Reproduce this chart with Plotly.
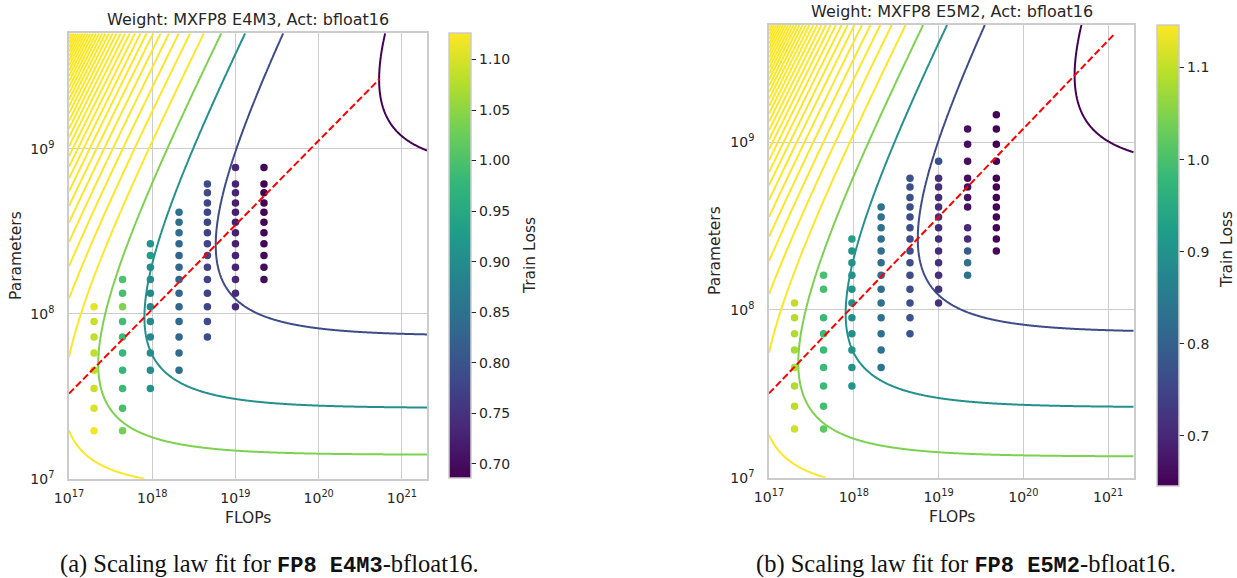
import numpy as np
import plotly.graph_objects as go
from plotly.colors import sample_colorscale

FONT = "DejaVu Sans"
INK = "#262626"
GRID = "#cccccc"
W, H = 1237, 578

# ---------------------------------------------------------------------------
# Runs: one list of model sizes (millions of parameters) per compute budget
# ---------------------------------------------------------------------------
E4M3_FLOPS = [2.0e17, 4.4e17, 9.5e17, 2.1e18, 4.6e18, 1.0e19, 2.2e19]
E4M3_PARAMS_M = [
    [110, 89.8, 72.2, 57.8, 45.4, 35.2, 26.7, 19.5],
    [161, 133, 110, 89.8, 72.2, 57.8, 45.4, 35.2, 26.7, 19.5],
    [265, 225, 191, 161, 133, 110, 89.8, 72.2, 57.8, 45.4, 35.2],
    [411, 358, 309, 265, 225, 191, 161, 133, 110, 89.8, 72.2, 57.8, 45.4],
    [611, 540, 469, 411, 358, 309, 265, 225, 191, 161, 133, 110, 89.8, 72.2],
    [770, 611, 540, 469, 411, 358, 309, 265, 225, 191, 161, 133, 110],
    [770, 611, 540, 469, 411, 358, 309, 265, 225, 191, 161],
]
E4M3_LOSS = [
    [1.110, 1.090, 1.085, 1.085, 1.080, 1.090, 1.100, 1.120],
    [1.000, 0.995, 1.040, 0.990, 0.985, 0.980, 0.980, 0.985, 0.995, 1.030],
    [0.915, 0.930, 0.905, 0.900, 0.895, 0.895, 0.895, 0.895, 0.900, 0.905, 0.910],
    [0.850, 0.845, 0.840, 0.835, 0.830, 0.830, 0.830, 0.830, 0.830, 0.835, 0.835, 0.840, 0.845],
    [0.790, 0.785, 0.780, 0.780, 0.775, 0.775, 0.775, 0.775, 0.775, 0.775, 0.775, 0.780, 0.785, 0.790],
    [0.735, 0.730, 0.730, 0.725, 0.725, 0.725, 0.725, 0.725, 0.730, 0.730, 0.735, 0.735, 0.740],
    [0.690, 0.688, 0.687, 0.687, 0.688, 0.690, 0.690, 0.692, 0.695, 0.698, 0.700],
]

E5M2_FLOPS = [2.0e17, 4.4e17, 9.5e17, 2.1e18, 4.6e18, 1.0e19, 2.2e19, 4.8e19]
E5M2_PARAMS_M = [
    [110, 89.8, 72.2, 57.8, 45.4, 35.2, 26.7, 19.5],
    [161, 133, 89.8, 72.2, 57.8, 45.4, 35.2, 26.7, 19.5],
    [265, 225, 191, 161, 133, 110, 89.8, 72.2, 57.8, 45.4, 35.2],
    [411, 358, 309, 265, 225, 191, 161, 133, 110, 89.8, 72.2, 57.8, 45.4],
    [611, 540, 469, 411, 358, 309, 265, 225, 191, 161, 133, 110, 89.8, 72.2],
    [770, 611, 540, 469, 411, 358, 309, 265, 225, 191, 161, 133, 110],
    [1200, 973, 770, 611, 540, 469, 411, 309, 265, 225, 191, 161],
    [1460, 1200, 973, 770, 611, 540, 469, 411, 358, 309, 265, 225],
]
E5M2_LOSS = [
    [1.100, 1.090, 1.085, 1.080, 1.085, 1.085, 1.095, 1.110],
    [1.000, 0.995, 0.985, 0.985, 0.985, 0.985, 0.985, 0.995, 1.020],
    [0.930, 0.905, 0.900, 0.900, 0.900, 0.895, 0.895, 0.895, 0.900, 0.900, 0.905],
    [0.835, 0.835, 0.830, 0.830, 0.830, 0.825, 0.825, 0.825, 0.830, 0.830, 0.830, 0.835, 0.840],
    [0.775, 0.770, 0.770, 0.765, 0.765, 0.765, 0.765, 0.765, 0.765, 0.765, 0.770, 0.770, 0.775, 0.780],
    [0.770, 0.715, 0.715, 0.710, 0.710, 0.710, 0.710, 0.710, 0.710, 0.715, 0.715, 0.720, 0.720],
    [0.665, 0.665, 0.665, 0.665, 0.665, 0.670, 0.670, 0.705, 0.710, 0.790, 0.830, 0.830],
    [0.650, 0.648, 0.646, 0.646, 0.646, 0.646, 0.646, 0.648, 0.650, 0.650, 0.652, 0.655],
]

# Fitted law  L(N, D) = E + A / N**alpha + B / D**beta  with  D = C / (6 N)
E4M3_FIT = dict(E=0.6402, A=2300.0, alpha=0.53, B=15228.0, beta=0.554)
E5M2_FIT = dict(E=0.5851, A=1595.0, alpha=0.50, B=17599.0, beta=0.555)

# colour-bar limits (train loss)
E4M3_LOSS_RANGE = (0.686, 1.126)
E5M2_LOSS_RANGE = (0.6457, 1.1464)

# compute span of the compute-optimal frontier
E4M3_FRONTIER_FLOPS = [1e17, 5.4e20]
E5M2_FRONTIER_FLOPS = [1e17, 1.2e21]

# viridis position of each iso-loss line (lowest level first); higher levels stay yellow
LEVEL_SHADES = [0.0, 0.23, 0.5, 0.8, 1.0]

TITLES = ["Weight: MXFP8 E4M3, Act: bfloat16", "Weight: MXFP8 E5M2, Act: bfloat16"]
CAPTIONS = [
    ("(a)", "FP8 E4M3"),
    ("(b)", "FP8 E5M2"),
]
X_TICKS = [1e17, 1e18, 1e19, 1e20, 1e21]
X_TICKTEXT = ["10<sup>17</sup>", "10<sup>18</sup>", "10<sup>19</sup>", "10<sup>20</sup>", "10<sup>21</sup>"]
Y_TICKS = [1e7, 1e8, 1e9]
Y_TICKTEXT = ["10<sup>7</sup>", "10<sup>8</sup>", "10<sup>9</sup>"]
E4M3_CBAR_TICKS = [0.70, 0.75, 0.80, 0.85, 0.90, 0.95, 1.00, 1.05, 1.10]
E5M2_CBAR_TICKS = [0.7, 0.8, 0.9, 1.0, 1.1]

X_RANGE = [17, np.log10(2e21)]
Y_RANGE = [7, np.log10(5e9)]


def law(fit, flops, params):
    tokens = flops / (6.0 * params)
    return fit["E"] + fit["A"] * params ** (-fit["alpha"]) + fit["B"] * tokens ** (-fit["beta"])


def optimal_params(fit, flops):
    a, b = fit["alpha"], fit["beta"]
    g = (a * fit["A"] / (b * fit["B"])) ** (1.0 / (a + b))
    return g * (np.asarray(flops) / 6.0) ** (b / (a + b))


def px(x):
    return x / W


def py(y):
    return 1 - y / H


def add_panel(fig, k, flops, params_m, loss, fit, loss_range, frontier,
              cbar_ticks, cbar_fmt, xdom, ydom, cbar_box):
    xa = "x" if k == 0 else "x2"
    ya = "y" if k == 0 else "y2"
    lo, hi = loss_range
    step = (hi - lo) / 4.0

    # loss landscape of the fitted law
    cg = np.logspace(X_RANGE[0], X_RANGE[1], 420)
    ng = np.logspace(Y_RANGE[0], Y_RANGE[1], 420)
    z = law(fit, cg[None, :], ng[:, None])
    n_lv = int(np.floor((z.max() - lo) / step))
    shades = [LEVEL_SHADES[min(i, len(LEVEL_SHADES) - 1)] for i in range(n_lv + 1)]
    cscale = [[i / n_lv, sample_colorscale("Viridis", [s])[0]] for i, s in enumerate(shades)]
    fig.add_trace(go.Contour(
        x=cg, y=ng, z=z, xaxis=xa, yaxis=ya,
        autocontour=False,
        contours=dict(start=lo, end=lo + n_lv * step, size=step,
                      coloring="lines", showlabels=False),
        line=dict(width=2, smoothing=1),
        colorscale=cscale, showscale=False, hoverinfo="skip",
    ))

    xs, ys, cs = [], [], []
    for c, ps, ls in zip(flops, params_m, loss):
        for p, l in zip(ps, ls):
            xs.append(c)
            ys.append(p * 1e6)
            cs.append(l)

    bx, by0, by1, bw = cbar_box
    fig.add_trace(go.Scatter(
        x=xs, y=ys, xaxis=xa, yaxis=ya, mode="markers",
        marker=dict(
            size=7.5, color=cs, colorscale="Viridis", cmin=lo, cmax=hi,
            line=dict(width=0), showscale=True,
            colorbar=dict(
                x=px(bx), xanchor="left", xpad=0, ypad=0,
                y=py((by0 + by1) / 2), yanchor="middle",
                len=(by1 - by0) / H, lenmode="fraction",
                thickness=bw, thicknessmode="pixels",
                outlinecolor=GRID, outlinewidth=1.5,
                tickmode="array", tickvals=cbar_ticks,
                ticktext=[cbar_fmt % t for t in cbar_ticks],
                ticks="outside", ticklen=5, tickwidth=1.3, tickcolor=INK,
                tickfont=dict(family=FONT, size=14, color=INK),
                bgcolor="rgba(0,0,0,0)",
            ),
        ),
        showlegend=False, hoverinfo="skip",
    ))

    fc = np.asarray(frontier)
    fig.add_trace(go.Scatter(
        x=fc, y=optimal_params(fit, fc), xaxis=xa, yaxis=ya, mode="lines",
        line=dict(color="#ff0000", width=2, dash="7px,3px"),
        showlegend=False, hoverinfo="skip",
    ))

    axis_common = dict(
        type="log", showgrid=True, gridcolor=GRID, gridwidth=1.3,
        zeroline=False, showline=True, linecolor=GRID, linewidth=1.6,
        mirror=True, ticks="", tickmode="array", automargin=False,
        tickfont=dict(family=FONT, size=14, color=INK),
    )
    fig.layout[("xaxis" if k == 0 else "xaxis2")] = dict(
        axis_common, domain=[px(xdom[0]), px(xdom[1])], range=X_RANGE,
        tickvals=X_TICKS, ticktext=X_TICKTEXT, anchor=ya,
        ticklabelstandoff=6,
    )
    fig.layout[("yaxis" if k == 0 else "yaxis2")] = dict(
        axis_common, domain=[py(ydom[1]), py(ydom[0])], range=Y_RANGE,
        tickvals=Y_TICKS, ticktext=Y_TICKTEXT, anchor=xa,
        ticklabelstandoff=10,
    )


fig = go.Figure()
add_panel(fig, 0, E4M3_FLOPS, E4M3_PARAMS_M, E4M3_LOSS, E4M3_FIT, E4M3_LOSS_RANGE,
          E4M3_FRONTIER_FLOPS, E4M3_CBAR_TICKS, "%.2f",
          xdom=(69, 427), ydom=(33.3, 478.7), cbar_box=(449.3, 33.3, 478, 22))
add_panel(fig, 1, E5M2_FLOPS, E5M2_PARAMS_M, E5M2_LOSS, E5M2_FIT, E5M2_LOSS_RANGE,
          E5M2_FRONTIER_FLOPS, E5M2_CBAR_TICKS, "%.1f",
          xdom=(769, 1133.7), ydom=(25, 477.7), cbar_box=(1156.7, 25, 485.7, 22))

ann = []


def label(text, x, y, size, angle=0, family=FONT, color=INK):
    ann.append(dict(text=text, x=px(x), y=py(y), xref="paper", yref="paper",
                    xanchor="center", yanchor="middle", showarrow=False,
                    textangle=angle, font=dict(family=family, size=size, color=color)))


# panel titles, axis titles, colour-bar titles
label(TITLES[0], 248, 20, 16)
label(TITLES[1], 951.5, 12, 16)
label("FLOPs", 248, 517.5, 15.5)
label("FLOPs", 951.5, 516.5, 15.5)
label("Parameters", 16, 256, 15.5, angle=-90)
label("Parameters", 715, 251, 15.5, angle=-90)
label("Train Loss", 530, 256, 15.5, angle=-90)
label("Train Loss", 1227, 250, 15.5, angle=-90)

# figure captions
for (tag, fmt), cx in zip(CAPTIONS, [269, 966]):
    txt = (tag + " Scaling law fit for "
           + '<b><span style="font-family:Liberation Mono;font-size:22px">' + fmt
           + "</span></b>-bfloat16.")
    label(txt, cx, 564, 24.5, family="Liberation Serif", color="#111111")

fig.update_layout(
    width=W, height=H,
    margin=dict(l=0, r=0, t=0, b=0, pad=0, autoexpand=False),
    paper_bgcolor="white", plot_bgcolor="white",
    showlegend=False, annotations=ann,
)

fig.write_html("out.html")
